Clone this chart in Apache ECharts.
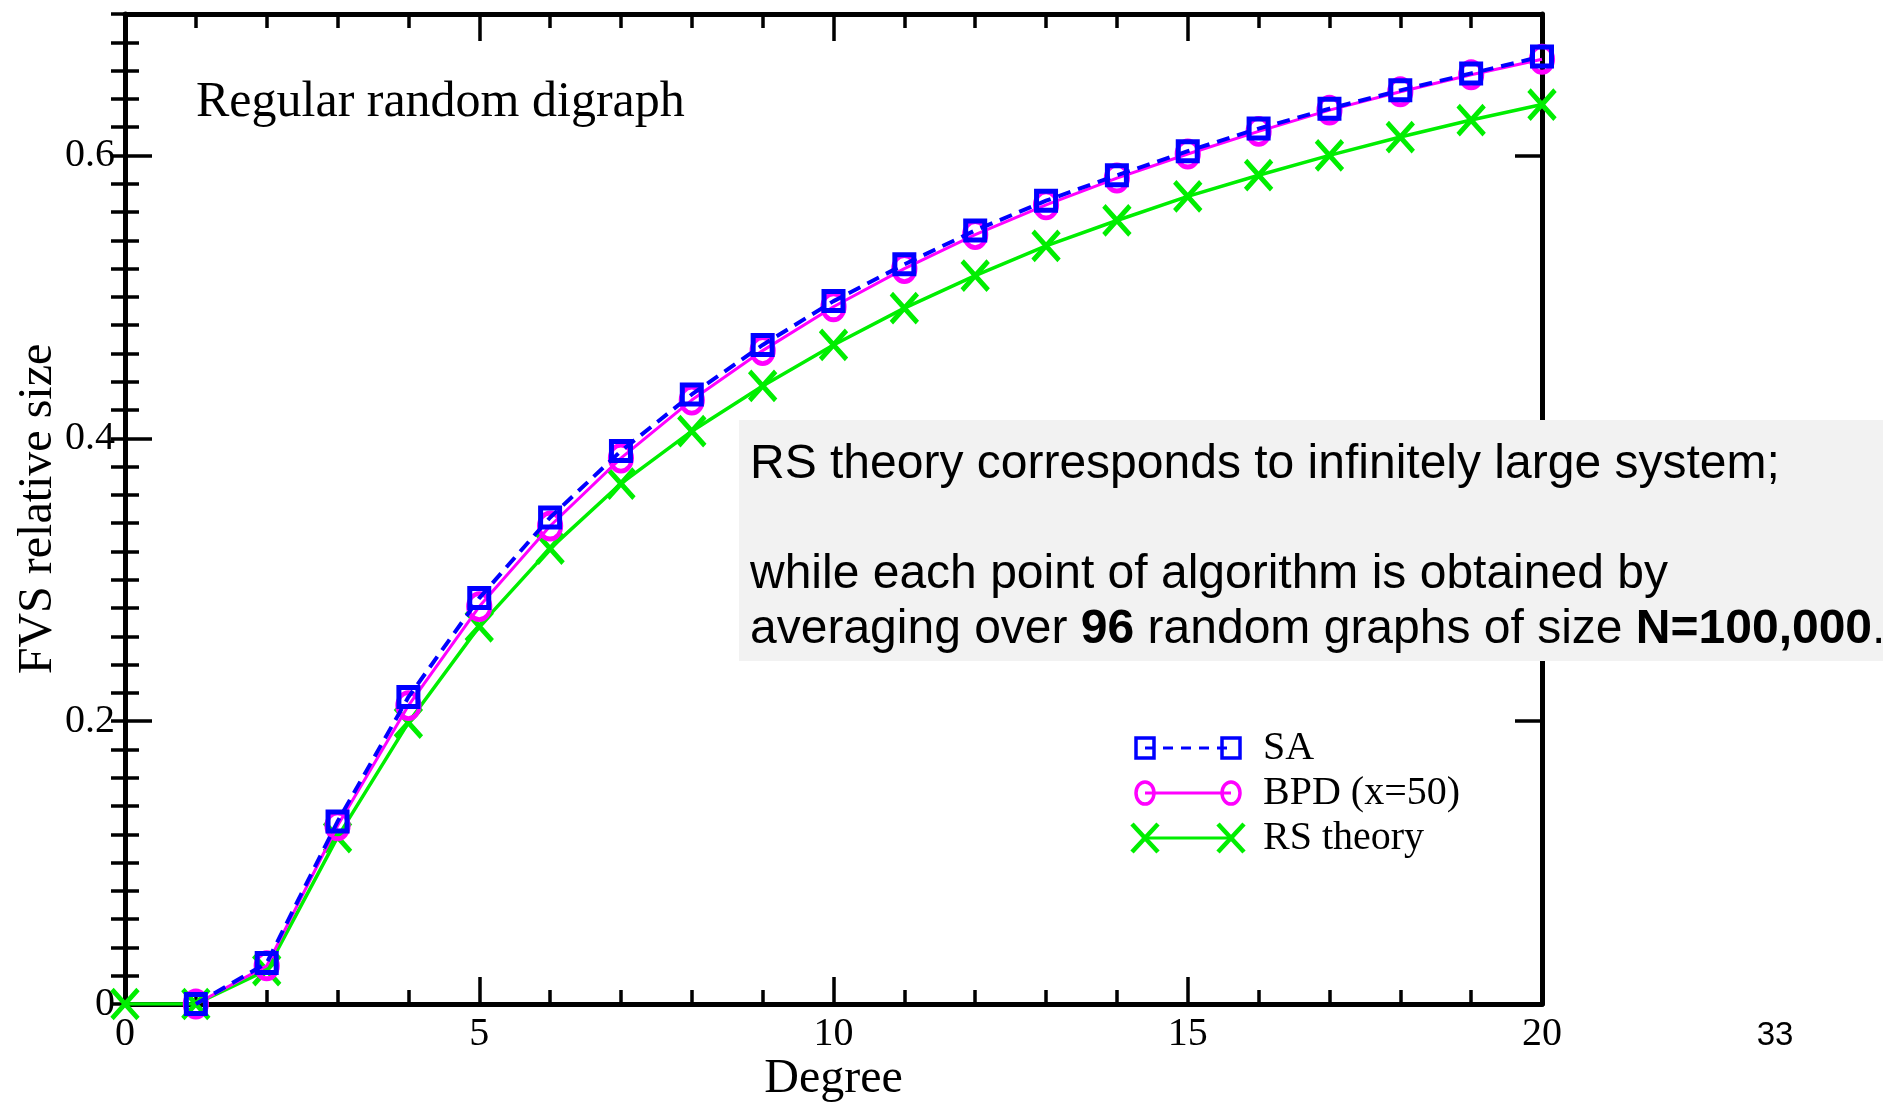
<!DOCTYPE html>
<html>
<head>
<meta charset="utf-8">
<title>FVS relative size</title>
<script src="https://cdn.jsdelivr.net/npm/echarts@6/dist/echarts.min.js"></script>
<style>
  html, body { margin: 0; padding: 0; background: #fff; }
  #chart { width: 1883px; height: 1103px; }
</style>
</head>
<body>
<div id="chart"></div>
<script>
// degree values (x) and measured FVS sizes
var degreeAlgo = [1, 2, 3, 4, 5, 6, 7, 8, 9, 10, 11, 12, 13, 14, 15, 16, 17, 18, 19, 20]
var saValues = [0, 0.029, 0.129, 0.217, 0.287, 0.344, 0.391, 0.431, 0.466, 0.497, 0.523, 0.547, 0.568, 0.586, 0.603, 0.619, 0.633, 0.646, 0.658, 0.670]
var bpdValues = [0, 0.027, 0.126, 0.211, 0.281, 0.338, 0.386, 0.427, 0.462, 0.493, 0.520, 0.544, 0.565, 0.584, 0.601, 0.617, 0.632, 0.645, 0.657, 0.668]
var degreeTheory = [0, 1, 2, 3, 4, 5, 6, 7, 8, 9, 10, 11, 12, 13, 14, 15, 16, 17, 18, 19, 20]
var rsValues = [0, 0, 0.024, 0.118, 0.199, 0.267, 0.322, 0.368, 0.405, 0.437, 0.466, 0.492, 0.515, 0.536, 0.554, 0.571, 0.586, 0.600, 0.613, 0.625, 0.636]
var seriesNames = ['SA', 'BPD (x=50)', 'RS theory']

function pairs (xs, ys) {
  return xs.map(function (x, i) { return [x, ys[i]] })
}

var serif = 'Liberation Serif'
var sans = 'Liberation Sans'
var black = '#000'
var blue = '#0000ff'
var magenta = '#ff00ff'
var green = '#00ee00'

var chart = echarts.init(document.getElementById('chart'))

// shared axis styles
var majorTick = { show: true, inside: true, length: 27, lineStyle: { color: black, width: 3.5 } }
var minorTickStyle = { show: true, inside: true, length: 14, lineStyle: { color: black, width: 3.5 } }
var thickLine = { show: true, onZero: false, lineStyle: { color: black, width: 5 } }

// legend keys: symbol at both ends of a short line, the built-in legend draws the text
var legendLeft = 1145
var legendRight = 1231
var legendRows = [748, 793, 838]

function legendKeys () {
  var items = [
    {
      type: 'line', z: 109,
      shape: { x1: legendLeft, y1: legendRows[0], x2: legendRight, y2: legendRows[0] },
      style: { stroke: blue, lineWidth: 3, lineDash: [10, 8] }
    },
    {
      type: 'line', z: 109,
      shape: { x1: legendLeft, y1: legendRows[1], x2: legendRight, y2: legendRows[1] },
      style: { stroke: magenta, lineWidth: 3 }
    },
    {
      type: 'line', z: 109,
      shape: { x1: legendLeft, y1: legendRows[2], x2: legendRight, y2: legendRows[2] },
      style: { stroke: green, lineWidth: 3 }
    }
  ]
  ;[legendLeft, legendRight].forEach(function (cx) {
    items.push({
      type: 'rect', z: 110,
      shape: { x: cx - 9, y: legendRows[0] - 10, width: 18, height: 20 },
      style: { fill: 'none', stroke: blue, lineWidth: 3.5 }
    })
    items.push({
      type: 'ellipse', z: 110,
      shape: { cx: cx, cy: legendRows[1], rx: 9, ry: 11 },
      style: { fill: 'none', stroke: magenta, lineWidth: 3.5 }
    })
    items.push({
      type: 'line', z: 110,
      shape: { x1: cx - 13, y1: legendRows[2] - 14, x2: cx + 13, y2: legendRows[2] + 14 },
      style: { stroke: green, lineWidth: 4.5 }
    })
    items.push({
      type: 'line', z: 110,
      shape: { x1: cx + 13, y1: legendRows[2] - 14, x2: cx - 13, y2: legendRows[2] + 14 },
      style: { stroke: green, lineWidth: 4.5 }
    })
  })
  return items
}

var option = {
  backgroundColor: '#fff',
  animation: false,
  title: {
    text: 'Regular random digraph',
    left: 191,
    top: 73,
    textStyle: { fontFamily: serif, fontSize: 50, fontWeight: 'normal', color: black }
  },
  grid: { left: 125, right: 341, top: 14, bottom: 99, show: false, outerBoundsMode: 'none', containLabel: false },
  legend: {
    data: seriesNames.map(function (n) { return { name: n, icon: 'none' } }),
    orient: 'vertical',
    left: legendLeft - 5,
    top: legendRows[0] - 26,
    itemWidth: legendRight - legendLeft,
    itemHeight: 42,
    itemGap: 3,
    textStyle: { fontFamily: serif, fontSize: 40, color: black, lineHeight: 42, padding: [0, 0, 0, 27] }
  },
  xAxis: [
    {
      type: 'value', position: 'bottom', min: 0, max: 20, interval: 5,
      axisLine: thickLine,
      axisTick: majorTick,
      minorTick: { show: true, splitNumber: 5, length: 14, lineStyle: { color: black, width: 3.5 } },
      splitLine: { show: false },
      axisLabel: { fontFamily: serif, fontSize: 40, color: black, margin: 10 },
      name: 'Degree',
      nameLocation: 'middle',
      nameGap: 51,
      nameMoveOverlap: false,
      nameTextStyle: { fontFamily: serif, fontSize: 48, color: black }
    },
    {
      type: 'value', position: 'top', min: 0, max: 20, interval: 5,
      axisLine: thickLine,
      axisTick: majorTick,
      minorTick: { show: true, splitNumber: 5, length: 14, lineStyle: { color: black, width: 3.5 } },
      splitLine: { show: false },
      axisLabel: { show: false }
    }
  ],
  yAxis: [
    {
      type: 'value', position: 'left', min: 0, max: 0.7, interval: 0.2,
      axisLine: thickLine,
      axisTick: majorTick,
      splitLine: { show: false },
      axisLabel: { fontFamily: serif, fontSize: 40, color: black, margin: 10, showMaxLabel: false },
      name: 'FVS relative size',
      nameLocation: 'middle',
      nameGap: 63,
      nameMoveOverlap: false,
      nameTextStyle: { fontFamily: serif, fontSize: 48, color: black }
    },
    {
      type: 'value', position: 'left', min: 0, max: 0.7, interval: 0.02,
      axisLine: { show: false },
      axisTick: minorTickStyle,
      splitLine: { show: false },
      axisLabel: { show: false }
    },
    {
      type: 'value', position: 'right', min: 0, max: 0.7, interval: 0.2,
      axisLine: thickLine,
      axisTick: majorTick,
      splitLine: { show: false },
      axisLabel: { show: false }
    },
    {
      type: 'value', position: 'right', min: 0, max: 0.7, interval: 0.02,
      axisLine: { show: false },
      axisTick: minorTickStyle,
      splitLine: { show: false },
      axisLabel: { show: false }
    }
  ],
  series: [
    {
      name: 'RS theory',
      type: 'line',
      data: pairs(degreeTheory, rsValues),
      symbol: 'path://M0,0L10,10M10,0L0,10',
      symbolSize: [26, 29],
      lineStyle: { color: green, width: 3.5 },
      itemStyle: { color: green, borderColor: green, borderWidth: 5 },
      z: 3
    },
    {
      name: 'BPD (x=50)',
      type: 'line',
      data: pairs(degreeAlgo, bpdValues),
      symbol: 'circle',
      symbolSize: [22, 26],
      lineStyle: { color: magenta, width: 3 },
      itemStyle: { color: 'rgba(0,0,0,0)', borderColor: magenta, borderWidth: 4.5 },
      z: 4
    },
    {
      name: 'SA',
      type: 'line',
      data: pairs(degreeAlgo, saValues),
      symbol: 'rect',
      symbolSize: 19,
      lineStyle: { color: blue, width: 4, type: [13, 8] },
      itemStyle: { color: 'rgba(0,0,0,0)', borderColor: blue, borderWidth: 5 },
      z: 5
    }
  ],
  graphic: [
    {
      type: 'rect',
      z: 100,
      shape: { x: 739, y: 420, width: 1144, height: 241 },
      style: { fill: '#f2f2f2' }
    },
    {
      type: 'text',
      z: 101,
      x: 750,
      y: 437,
      style: {
        text: 'RS theory corresponds to infinitely large system;\n\nwhile each point of algorithm is obtained by\naveraging over {b|96} random graphs of size {b|N=100,000}.',
        fontFamily: sans,
        fontSize: 48,
        lineHeight: 55,
        fill: black,
        rich: {
          b: { fontFamily: sans, fontSize: 48, fontWeight: 'bold', lineHeight: 55, fill: black }
        }
      }
    },
    {
      type: 'text',
      z: 101,
      x: 1775,
      y: 1036,
      style: {
        text: '33',
        fontFamily: sans,
        fontSize: 33,
        fill: black,
        align: 'center',
        verticalAlign: 'middle'
      }
    }
  ].concat(legendKeys())
}

chart.setOption(option)
</script>
</body>
</html>
